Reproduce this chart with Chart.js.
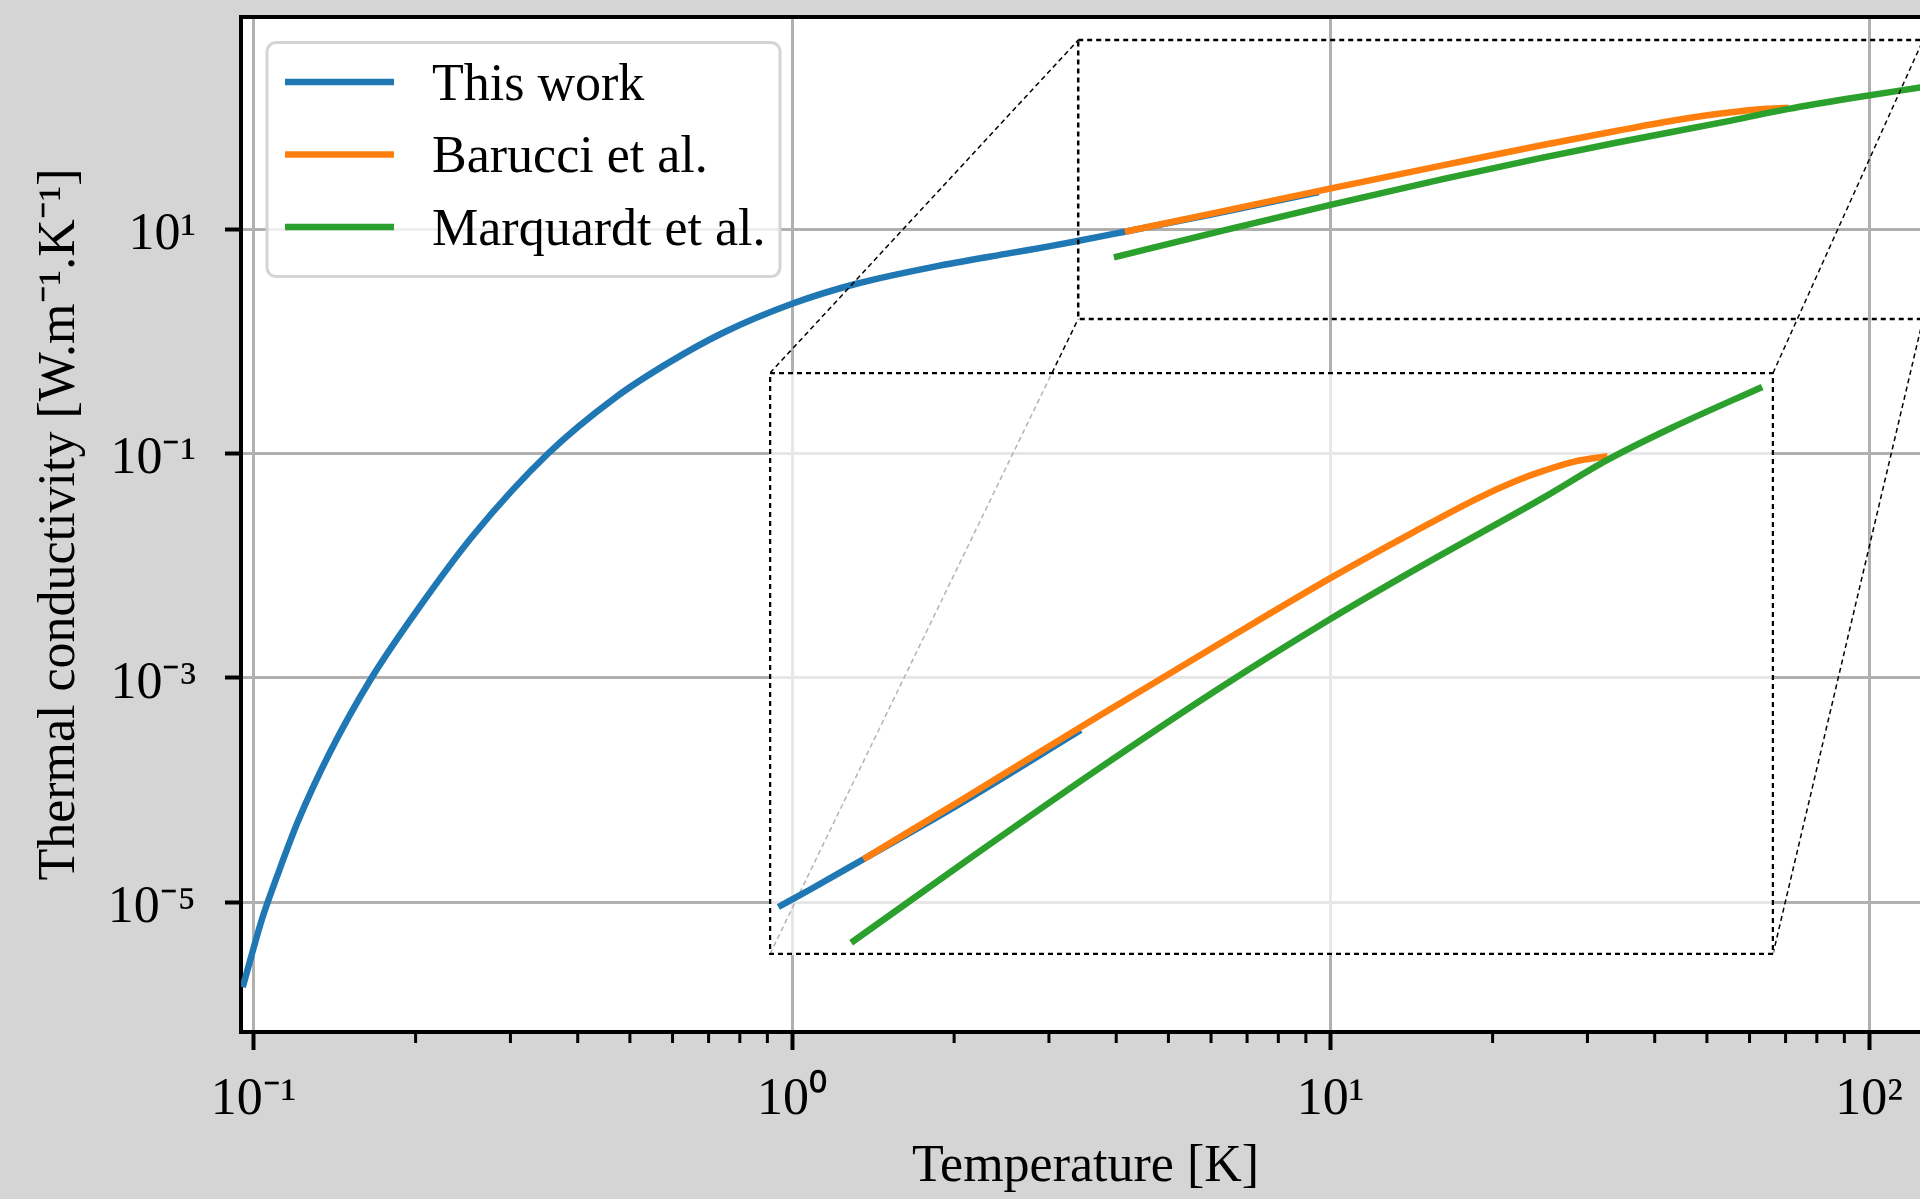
<!DOCTYPE html>
<html><head><meta charset="utf-8">
<script src="https://cdn.jsdelivr.net/npm/chart.js@4.4.1/dist/chart.umd.min.js"></script>
<style>
html,body{margin:0;padding:0;background:#d5d5d5;overflow:hidden;}
#wrap{position:relative;width:1920px;height:1199px;overflow:hidden;}
#main{position:absolute;left:0;top:0;width:1940px;height:1199px;}
#inset{position:absolute;left:769px;top:372px;width:1005px;height:583px;}
</style></head><body>
<div id="wrap">
<canvas id="main" width="1940" height="1199"></canvas>
<canvas id="inset" width="1005" height="583"></canvas>
</div>
<script>
// ---------------- data ----------------
const seriesLabels = ['This work', 'Barucci et al.', 'Marquardt et al.'];
const seriesColors = ['#1f77b4', '#ff7f0e', '#2ca02c'];

const tempThisWork = [0.0955, 0.1039, 0.1104, 0.121, 0.1389, 0.1656, 0.2034, 0.2557, 0.3524, 0.4711, 0.5925, 0.745, 1.006, 1.312, 1.831, 2.555, 3.0, 3.388, 4.15, 6.0, 9.51];
const kThisWork    = [1.762e-6, 7.33e-6, 1.671e-5, 5.31e-5, 2.213e-4, 1.0e-3, 4.30e-3, 1.862e-2, 0.100, 0.3184, 0.6516, 1.191, 2.178, 3.236, 4.603, 6.124, 6.998, 7.816, 9.462, 13.43, 21.38];

const tempBarucci = [4.15, 6.07, 9.92, 16.23, 24.52, 33.9, 43.36, 50.1, 55.5, 62.7, 70.9];
const kBarucci    = [9.46, 13.84, 22.75, 37.07, 55.46, 74.6, 92.5, 103.0, 109.6, 116.4, 120.2];

const tempMarquardt = [3.96, 6.31, 10.0, 16.23, 24.52, 33.9, 55.45, 70.9, 90.6, 127.9];
const kMarquardt    = [5.585, 9.66, 16.41, 27.99, 42.85, 58.61, 92.47, 117.5, 143.9, 186.2];

// axes
const xRange = [0.09479, 129.8];
const yRange = [7.018e-7, 774];
const xMajorTicks = [0.1, 1, 10, 100];
const xMinorTicks = [0.2, 0.3, 0.4, 0.5, 0.6, 0.7, 0.8, 0.9, 2, 3, 4, 5, 6, 7, 8, 9, 20, 30, 40, 50, 60, 70, 80, 90];
const yTickValues = [1e-5, 1e-3, 1e-1, 1e1];

// zoomed region (data units) marked on the main axes, and inset axis limits
const zoomBoxT = [3.4, 126];
const zoomBoxK = [1.58, 482];
const insetTRange = [2.895, 133.8];
const insetKRange = [5.17, 204.6];
const insetTMin = 3.0;

// ---------------- helpers ----------------
const FONT = "'Liberation Serif', 'Times New Roman', serif";
Chart.defaults.font.family = FONT;
Chart.defaults.color = '#000';
const SUP = {'-':'\u207B','0':'\u2070','1':'\u00B9','2':'\u00B2','3':'\u00B3','4':'\u2074','5':'\u2075','6':'\u2076','7':'\u2077','8':'\u2078','9':'\u2079'};
function powerLabel(v) {
  const e = Math.round(Math.log10(v));
  return '10' + String(e).split('').map(c => SUP[c]).join('');
}
function isIn(list, v) { return list.some(m => Math.abs(m - v) / m < 1e-9); }
function pts(xs, ys, minX) {
  const out = [];
  xs.forEach((x, i) => { if (minX === undefined || x >= minX) out.push({x: x, y: ys[i]}); });
  return out;
}
function makeDatasets(minX) {
  const sets = [[tempThisWork, kThisWork], [tempBarucci, kBarucci], [tempMarquardt, kMarquardt]];
  return sets.map((s, i) => ({
    label: seriesLabels[i],
    data: pts(s[0], s[1], i === 0 ? minX : undefined),
    borderColor: seriesColors[i],
    backgroundColor: seriesColors[i],
    borderWidth: 6.5,
    pointRadius: 0,
    fill: false,
    cubicInterpolationMode: 'monotone',
    borderCapStyle: 'butt',
    borderJoinStyle: 'round',
    order: 3 - i
  }));
}

// inset placement on page (inner border line of the inset canvas)
const insetBox = {left: 770, top: 373, right: 1773, bottom: 954};

const mainDecor = {
  id: 'mainDecor',
  beforeDraw(chart) {
    const {ctx, chartArea: a} = chart;
    ctx.save();
    ctx.fillStyle = '#ffffff';
    ctx.fillRect(a.left, a.top, a.right - a.left, a.bottom - a.top);
    ctx.restore();
  },
  afterDatasetsDraw(chart) {
    const {ctx} = chart;
    const xs = chart.scales.x, ys = chart.scales.y;
    const L = xs.getPixelForValue(zoomBoxT[0]), R = xs.getPixelForValue(zoomBoxT[1]);
    const T = ys.getPixelForValue(zoomBoxK[1]), B = ys.getPixelForValue(zoomBoxK[0]);
    ctx.save();
    ctx.strokeStyle = '#000';
    ctx.lineWidth = 2.5;
    ctx.setLineDash([5, 4]);
    ctx.strokeRect(L, T, R - L, B - T);
    ctx.lineWidth = 1.5;
    ctx.setLineDash([5, 3.5]);
    const lines = [
      [insetBox.left, insetBox.top, L, T],
      [insetBox.left, insetBox.bottom, L, B],
      [insetBox.right, insetBox.top, R, T],
      [insetBox.right, insetBox.bottom, R, B]
    ];
    lines.forEach(l => { ctx.beginPath(); ctx.moveTo(l[0], l[1]); ctx.lineTo(l[2], l[3]); ctx.stroke(); });
    ctx.restore();
  },
  afterDraw(chart) {
    const {ctx, chartArea: a} = chart;
    const xs = chart.scales.x;
    ctx.save();
    // top spine
    ctx.strokeStyle = '#000';
    ctx.lineWidth = 4;
    ctx.beginPath(); ctx.moveTo(a.left - 2, a.top); ctx.lineTo(a.right, a.top); ctx.stroke();
    // minor x ticks
    ctx.lineWidth = 3;
    xMinorTicks.forEach(v => {
      const px = xs.getPixelForValue(v);
      if (px < a.left || px > a.right) return;
      ctx.beginPath(); ctx.moveTo(px, a.bottom + 2); ctx.lineTo(px, a.bottom + 11); ctx.stroke();
    });
    // legend
    const bx = 267, by = 42.5, bw = 513, bh = 234;
    ctx.beginPath();
    ctx.roundRect(bx, by, bw, bh, 9);
    ctx.fillStyle = 'rgba(255,255,255,0.8)';
    ctx.fill();
    ctx.lineWidth = 3;
    ctx.strokeStyle = '#d4d4d4';
    ctx.stroke();
    const rowY = [82, 154.5, 227];
    chart.data.datasets.forEach((d, i) => {
      ctx.strokeStyle = d.borderColor;
      ctx.lineWidth = 6.5;
      ctx.beginPath(); ctx.moveTo(285, rowY[i]); ctx.lineTo(394, rowY[i]); ctx.stroke();
      ctx.fillStyle = '#000';
      ctx.font = '52px ' + FONT;
      ctx.textBaseline = 'middle';
      ctx.textAlign = 'left';
      ctx.fillText(d.label, 432, rowY[i] + 4);
    });
    ctx.restore();
  }
};

new Chart(document.getElementById('main'), {
  type: 'line',
  data: { datasets: makeDatasets() },
  options: {
    responsive: false,
    animation: false,
    events: [],
    layout: { padding: { top: 17, right: 10, left: 0, bottom: 0 }, autoPadding: false },
    plugins: { legend: { display: false }, tooltip: { enabled: false } },
    scales: {
      x: {
        type: 'logarithmic',
        min: xRange[0], max: xRange[1],
        afterBuildTicks: s => {
          s.ticks = xMajorTicks.concat(xMinorTicks).sort((a, b) => a - b).map(v => ({ value: v, major: isIn(xMajorTicks, v) }));
        },
        afterFit: s => { s.height = 167; s.paddingLeft = 0; s.paddingRight = 0; s.paddingTop = 0; s.paddingBottom = 0; },
        ticks: {
          autoSkip: false, maxRotation: 0, minRotation: 0, padding: 19, color: '#000',
          font: { family: FONT, size: 52, lineHeight: 1.2 },
          callback: v => isIn(xMajorTicks, v) ? powerLabel(v) : ''
        },
        grid: {
          color: c => (c.tick && isIn(xMajorTicks, c.tick.value)) ? '#b0b0b0' : 'rgba(0,0,0,0)',
          lineWidth: 3,
          tickLength: 18,
          tickWidth: 4,
          tickColor: c => (c.tick && isIn(xMajorTicks, c.tick.value)) ? '#000' : 'rgba(0,0,0,0)'
        },
        border: { display: true, color: '#000', width: 4 },
        title: { display: true, text: 'Temperature [K]', color: '#000', font: { family: FONT, size: 52, lineHeight: 1.2 }, padding: { top: 0, bottom: 0 } }
      },
      y: {
        type: 'logarithmic',
        min: yRange[0], max: yRange[1],
        afterBuildTicks: s => { s.ticks = yTickValues.map(v => ({ value: v, major: true })); },
        afterFit: s => { s.width = 241; s.paddingTop = 0; s.paddingBottom = 0; s.paddingLeft = 0; s.paddingRight = 0; },
        ticks: {
          autoSkip: false, padding: 29, labelOffset: 6, color: '#000',
          font: { family: FONT, size: 52, lineHeight: 1.2 },
          callback: v => powerLabel(v)
        },
        grid: { color: '#b0b0b0', lineWidth: 3, tickLength: 16, tickWidth: 4, tickColor: '#000' },
        border: { display: true, color: '#000', width: 4 },
        title: { display: true, text: 'Thermal conductivity [W.m\u207B\u00B9.K\u207B\u00B9]', color: '#000', font: { family: FONT, size: 52, lineHeight: 1.2 }, padding: { top: 29, bottom: 0 } }
      }
    }
  },
  plugins: [mainDecor]
});

const insetDecor = {
  id: 'insetDecor',
  beforeDraw(chart) {
    const {ctx, width, height} = chart;
    ctx.save();
    ctx.fillStyle = 'rgba(255,255,255,0.7)';
    ctx.fillRect(0, 0, width, height);
    ctx.restore();
  },
  afterDraw(chart) {
    const {ctx, width, height} = chart;
    ctx.save();
    ctx.strokeStyle = '#000';
    ctx.lineWidth = 2.5;
    ctx.setLineDash([5, 4]);
    ctx.strokeRect(1, 1, width - 2, height - 2);
    ctx.restore();
  }
};

new Chart(document.getElementById('inset'), {
  type: 'line',
  data: { datasets: makeDatasets(insetTMin) },
  options: {
    responsive: false,
    animation: false,
    events: [],
    layout: { padding: 0, autoPadding: false },
    plugins: { legend: { display: false }, tooltip: { enabled: false } },
    scales: {
      x: { type: 'logarithmic', display: false, min: insetTRange[0], max: insetTRange[1] },
      y: { type: 'logarithmic', display: false, min: insetKRange[0], max: insetKRange[1] }
    }
  },
  plugins: [insetDecor]
});
</script>
</body></html>
